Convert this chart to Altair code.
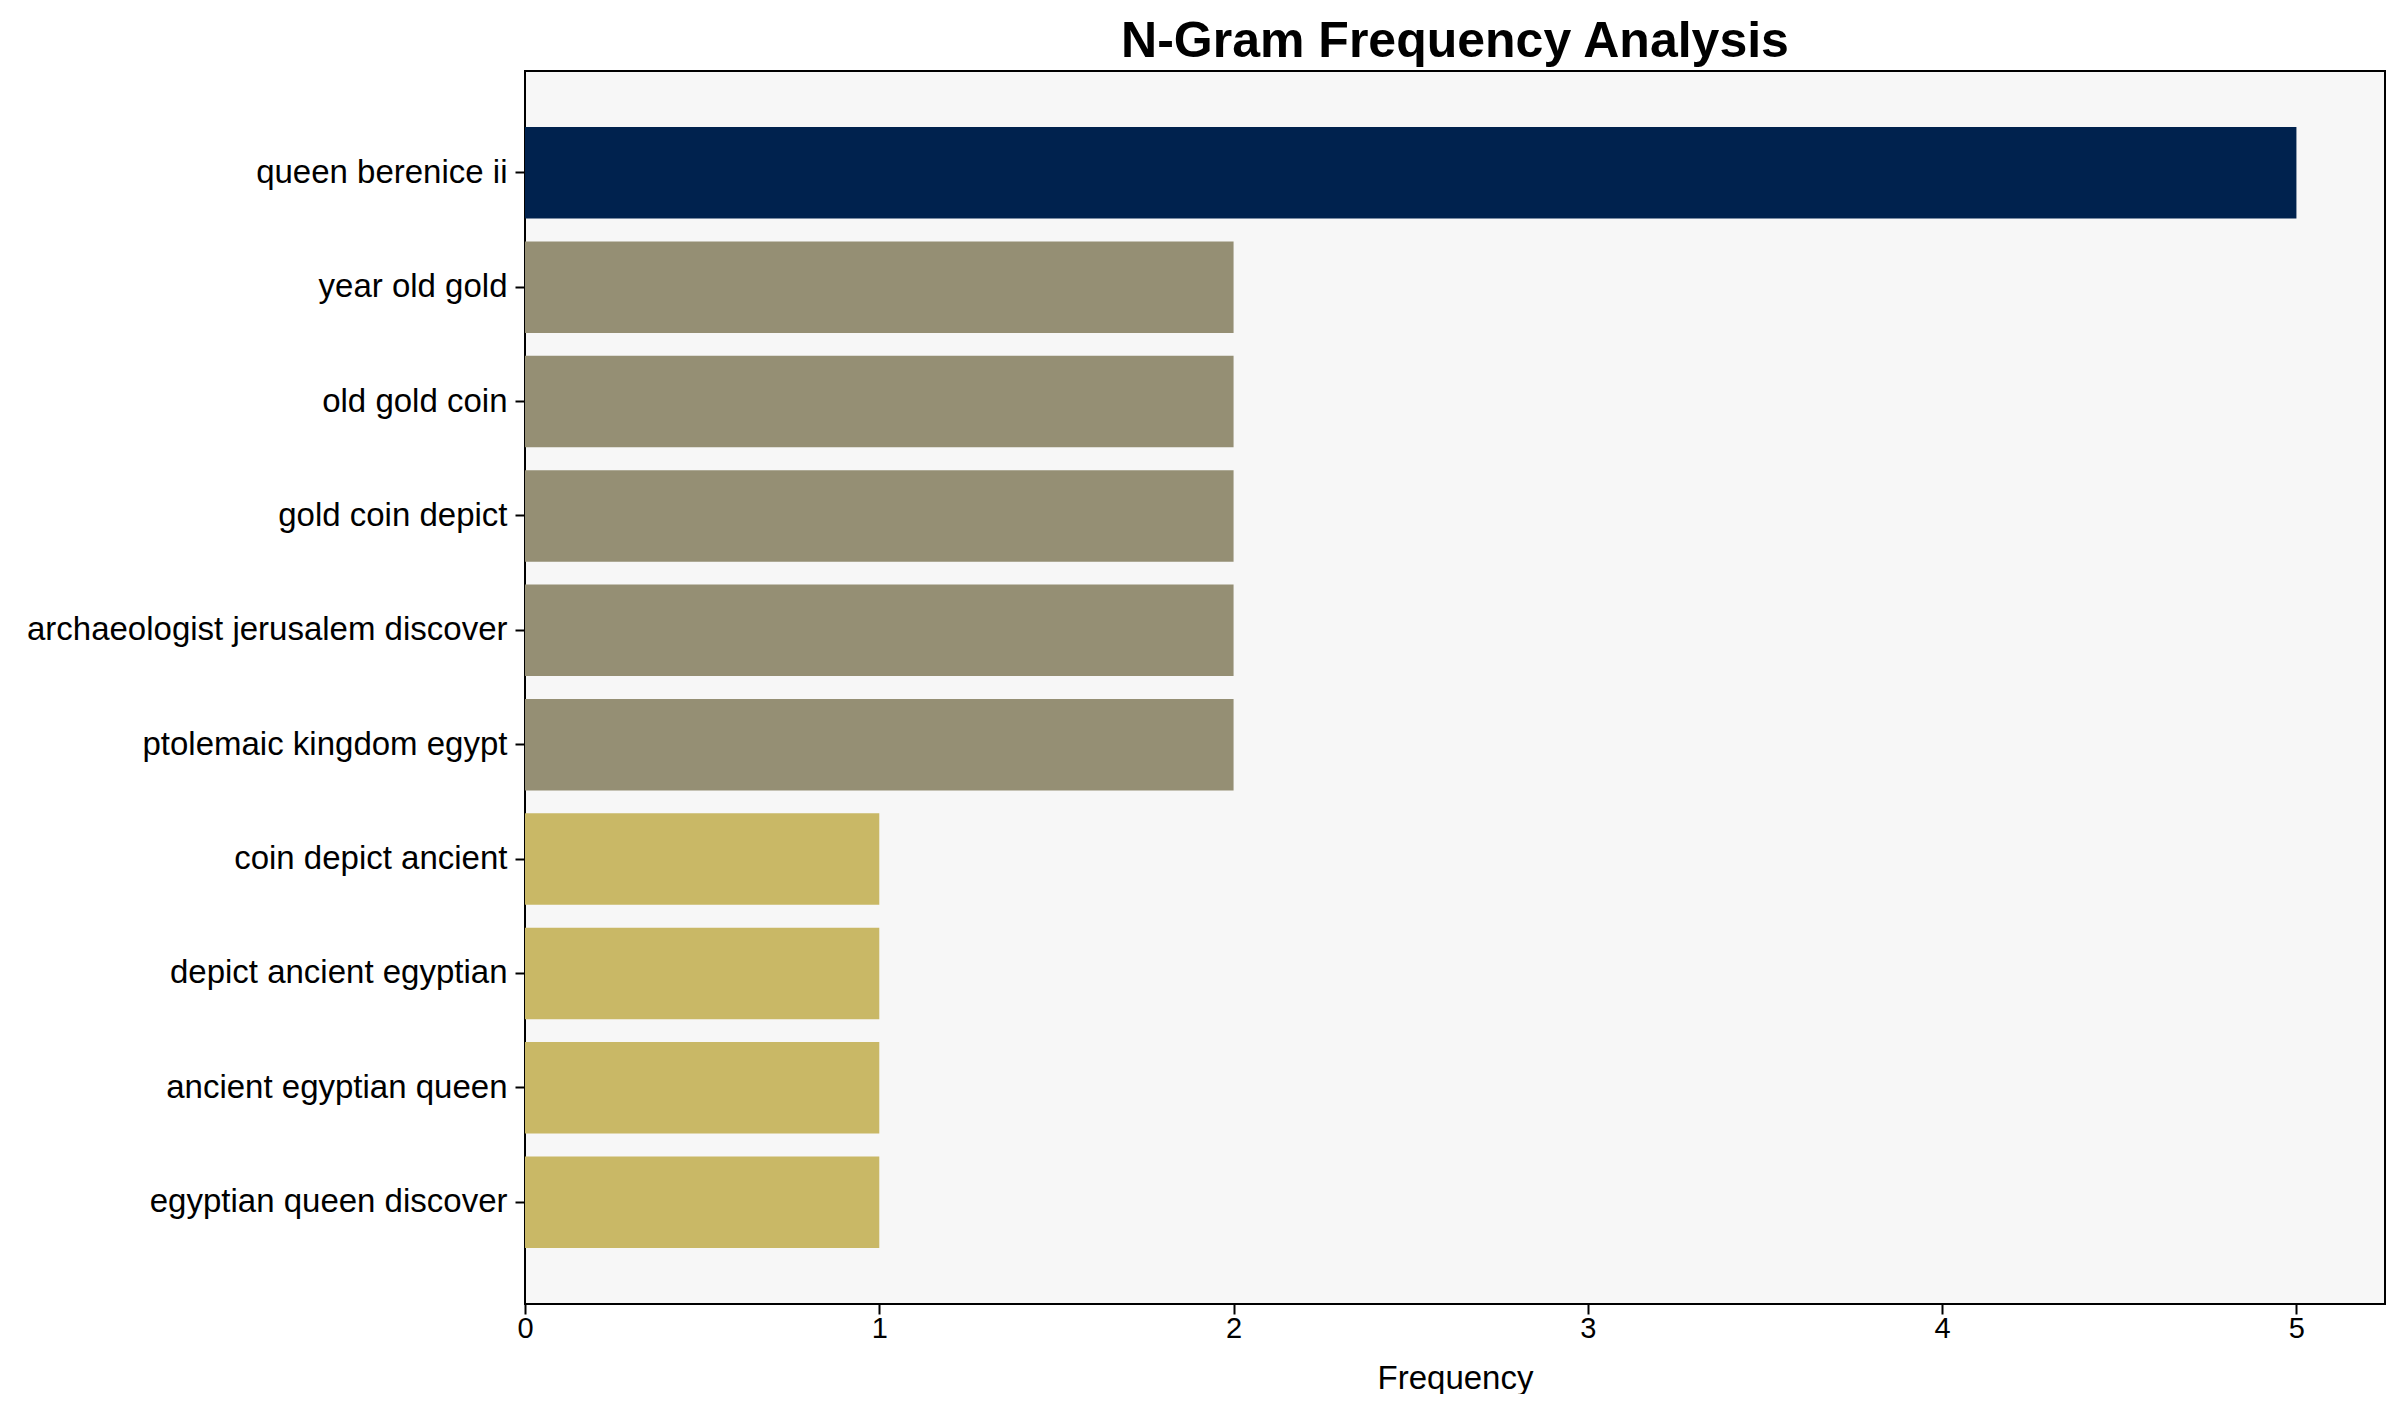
import altair as alt
import pandas as pd

ngrams = [
    "queen berenice ii",
    "year old gold",
    "old gold coin",
    "gold coin depict",
    "archaeologist jerusalem discover",
    "ptolemaic kingdom egypt",
    "coin depict ancient",
    "depict ancient egyptian",
    "ancient egyptian queen",
    "egyptian queen discover",
]
frequencies = [5, 2, 2, 2, 2, 2, 1, 1, 1, 1]

color_domain = [1, 2, 5]
color_range = ["#C9B866", "#958F74", "#00224E"]

df = pd.DataFrame({"ngram": ngrams, "Frequency": frequencies})

FONT = "Liberation Sans"

chart = (
    alt.Chart(df)
    .mark_bar(opacity=1)
    .encode(
        x=alt.X(
            "Frequency:Q",
            title="Frequency",
            scale=alt.Scale(domain=[0, 5.25], nice=False, zero=True),
            axis=alt.Axis(
                values=[0, 1, 2, 3, 4, 5],
                format="d",
                grid=False,
                domain=False,
                labelFlush=False,
                tickColor="black",
                tickWidth=2,
                tickSize=10,
                labelFontSize=29,
                labelFont=FONT,
                labelColor="black",
                labelPadding=0,
                titleFont=FONT,
                titleFontSize=33,
                titleFontWeight="normal",
                titleColor="black",
                titlePadding=19,
            ),
        ),
        y=alt.Y(
            "ngram:N",
            sort=ngrams,
            title=None,
            scale=alt.Scale(paddingInner=0.2, paddingOuter=0.49),
            axis=alt.Axis(
                grid=False,
                domain=False,
                tickColor="black",
                tickWidth=2,
                tickSize=10,
                labelFontSize=33,
                labelFont=FONT,
                labelColor="black",
                labelPadding=8,
                labelLimit=1000,
            ),
        ),
        color=alt.Color(
            "Frequency:O",
            scale=alt.Scale(domain=color_domain, range=color_range),
            legend=None,
        ),
    )
    .properties(
        width=1860,
        height=1233,
        title=alt.TitleParams(
            "N-Gram Frequency Analysis",
            font=FONT,
            fontSize=50,
            fontWeight="bold",
            color="black",
            anchor="middle",
            baseline="bottom",
            offset=12,
            dy=58,
        ),
        autosize=alt.AutoSizeParams(type="none"),
        padding={"left": 517, "top": 63, "right": 10, "bottom": 90},
    )
    .configure_view(fill="#F7F7F7", stroke="black", strokeWidth=2)
)

chart.save("out.html", embed_options={"renderer": "svg", "actions": False})
